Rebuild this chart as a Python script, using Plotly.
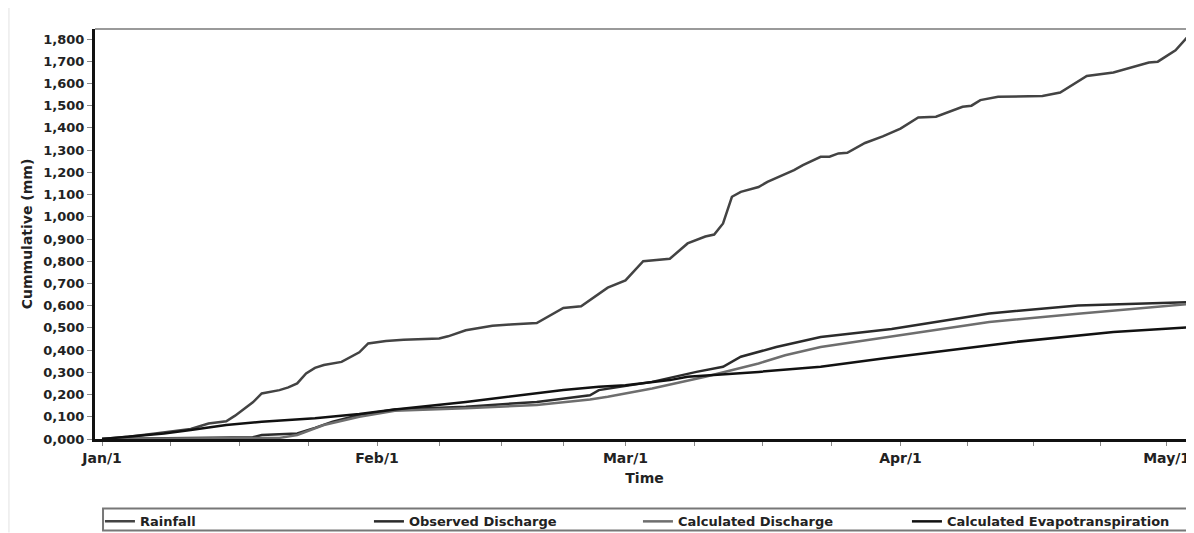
import datetime as dt
import plotly.graph_objects as go

# ---- data (day offsets from Jan/1, cumulative mm) ----
YEAR_START = dt.date(2011, 1, 1)

rain_days = [0, 3, 6, 10, 12, 14, 15, 17, 18, 19, 20, 21, 22, 23, 24, 25, 27, 29, 30, 32, 34, 38, 39, 41, 44, 46, 49,
             52, 54, 57, 59, 61, 64, 66, 68, 69, 70, 71, 72, 74, 75, 78, 79, 81, 82, 83, 84, 86, 87, 88, 90, 91, 92,
             94, 97, 98, 99, 101, 106, 108, 111, 114, 116, 118, 119, 121, 123]
rain_vals = [0.0, 0.01, 0.025, 0.045, 0.07, 0.08, 0.105, 0.165, 0.205, 0.212, 0.22, 0.232, 0.25, 0.295, 0.32, 0.333,
             0.347, 0.39, 0.43, 0.441, 0.447, 0.452, 0.462, 0.489, 0.51, 0.515, 0.522, 0.59, 0.597, 0.681, 0.714,
             0.80, 0.811, 0.88, 0.911, 0.92, 0.97, 1.09, 1.112, 1.134, 1.157, 1.21, 1.232, 1.27, 1.27, 1.285, 1.288,
             1.332, 1.347, 1.362, 1.397, 1.422, 1.447, 1.45, 1.495, 1.50, 1.525, 1.54, 1.544, 1.559, 1.634, 1.649,
             1.671, 1.694, 1.698, 1.749, 1.839]

obs_days = [0, 10, 17, 18, 22, 24, 26, 29, 33, 41, 49, 55, 56, 62, 67, 70, 72, 76, 81, 89, 100, 110, 123]
obs_vals = [0.0, 0.003, 0.008, 0.018, 0.025, 0.05, 0.078, 0.108, 0.133, 0.145, 0.167, 0.197, 0.22, 0.257, 0.302,
            0.325, 0.37, 0.414, 0.459, 0.495, 0.565, 0.601, 0.616]

calc_days = [0, 20, 22, 23, 25, 29, 33, 41, 49, 55, 57, 62, 68, 74, 77, 81, 88, 100, 110, 123]
calc_vals = [0.0, 0.005, 0.018, 0.033, 0.063, 0.10, 0.127, 0.138, 0.153, 0.178, 0.19, 0.227, 0.28, 0.34, 0.377,
             0.414, 0.455, 0.527, 0.564, 0.609]

et_days = [0, 3, 7, 10, 14, 18, 24, 29, 33, 41, 52, 56, 59, 64, 66, 74, 81, 88, 103, 114, 123]
et_vals = [0.0, 0.01, 0.025, 0.04, 0.063, 0.078, 0.093, 0.113, 0.133, 0.167, 0.22, 0.235, 0.242, 0.265, 0.28,
           0.302, 0.325, 0.362, 0.437, 0.482, 0.504]

series_names = ["Rainfall", "Observed Discharge", "Calculated Discharge", "Calculated Evapotranspiration"]
month_starts = ["2011-01-01", "2011-02-01", "2011-03-01", "2011-04-01", "2011-05-01"]
month_labels = ["Jan/1", "Feb/1", "Mar/1", "Apr/1", "May/1"]
y_ticks = [i / 10 for i in range(19)]


def to_dates(days):
    return [YEAR_START + dt.timedelta(days=d) for d in days]


FONT = "DejaVu Sans"
TXT = "#222222"

fig = go.Figure()
styles = [
    ("#434343", 2.5),
    ("#2b2b2b", 2.5),
    ("#6e6e6e", 2.5),
    ("#111111", 2.5),
]
for name, d, v, (c, w) in zip(series_names,
                              [rain_days, obs_days, calc_days, et_days],
                              [rain_vals, obs_vals, calc_vals, et_vals], styles):
    fig.add_trace(go.Scatter(x=to_dates(d), y=v, mode="lines", name=name,
                             line=dict(color=c, width=w)))

# x ticks: month starts labelled, quarter-month unlabelled ticks in between
ms = [dt.date.fromisoformat(s) for s in month_starts]
tickvals, ticktext = [], []
for i, m in enumerate(ms):
    tickvals.append(dt.datetime.combine(m, dt.time()))
    ticktext.append(month_labels[i])
    if i + 1 < len(ms):
        span = (ms[i + 1] - m).days
        for k in (1, 2, 3):
            tickvals.append(dt.datetime.combine(m, dt.time()) + dt.timedelta(days=span * k / 4))
            ticktext.append("")

# the page adds an 8px body margin, so the figure is 8px smaller than the window
fig.update_layout(
    width=1186, height=525,
    margin=dict(l=87, r=0, t=21, b=93.5, autoexpand=False),
    paper_bgcolor="white", plot_bgcolor="white",
    separators=",.",
    font=dict(family=FONT, size=13, color=TXT, weight="bold"),
    xaxis=dict(
        range=["2010-12-31 05:00", "2011-05-04 02:00"],
        tickmode="array", tickvals=tickvals, ticktext=ticktext,
        ticks="outside", ticklen=4, tickwidth=1, tickcolor="#888",
        showline=True, linecolor="#111", linewidth=3,
        showgrid=False, zeroline=False, automargin=False,
        tickfont=dict(family=FONT, size=14, color=TXT, weight="bold"),
        title=dict(text="Time", standoff=9,
                   font=dict(family=FONT, size=14, color=TXT, weight="bold")),
    ),
    yaxis=dict(
        range=[0, 1.845],
        tickmode="array", tickvals=y_ticks, tickformat=".3f",
        ticks="outside", ticklen=5, tickwidth=1, tickcolor="#888",
        showline=True, linecolor="#111", linewidth=3,
        showgrid=False, zeroline=False, automargin=False,
        tickfont=dict(family=FONT, size=13, color=TXT, weight="bold"),
        title=dict(text="Cummulative (mm)", standoff=8,
                   font=dict(family=FONT, size=14, color=TXT, weight="bold")),
    ),
    legend=dict(
        orientation="h", x=0.0045, y=-0.1644, xanchor="left", yanchor="top",
        entrywidth=224, entrywidthmode="pixels", itemwidth=30,
        borderwidth=0, bgcolor="rgba(0,0,0,0)",
        font=dict(family=FONT, size=13, color=TXT, weight="bold"),
    ),
    shapes=[
        dict(type="line", xref="paper", yref="paper", x0=0, x1=1, y0=1, y1=1,
             line=dict(color="#9a9a9a", width=2)),
        dict(type="line", xref="paper", yref="paper", x0=-0.0783, x1=-0.0783, y0=-0.228, y1=1.071,
             line=dict(color="#e2e2e2", width=1)),
        # legend frame
        dict(type="rect", xref="paper", yref="paper", x0=0.0073, x1=0.9964, y0=-0.2229, y1=-0.1693,
             line=dict(color="#777", width=2), fillcolor="rgba(0,0,0,0)", layer="below"),
    ],
)

fig.write_html("out.html")
